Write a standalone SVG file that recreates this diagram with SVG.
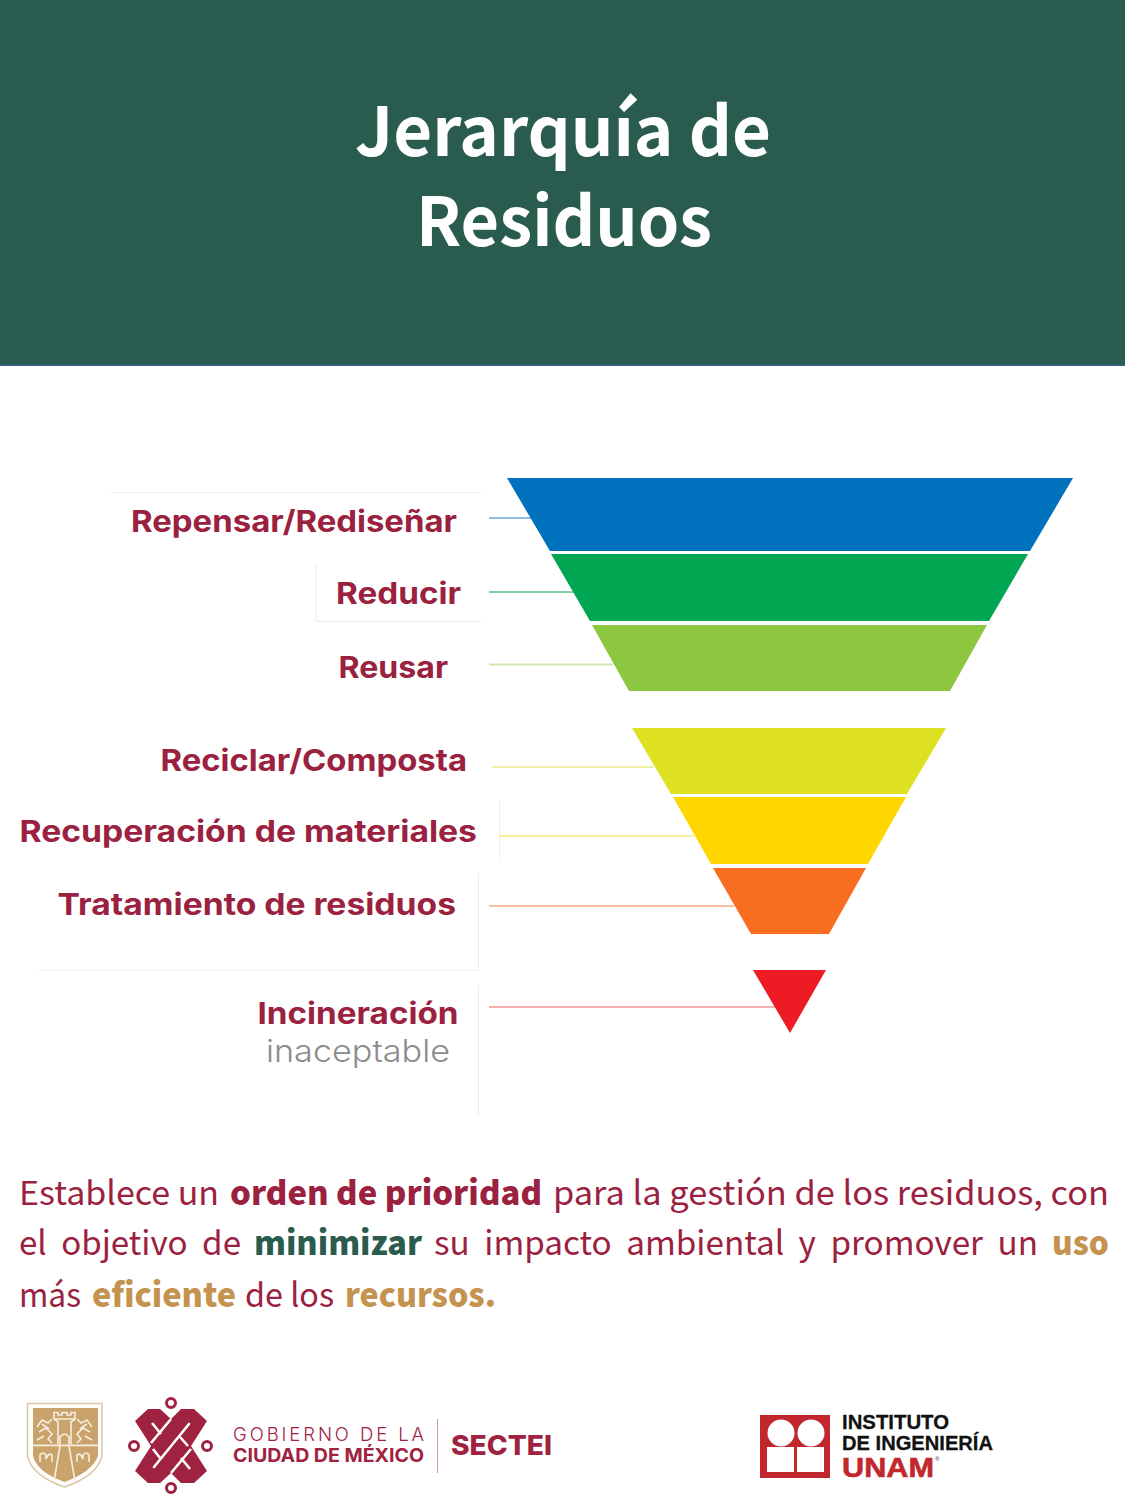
<svg xmlns="http://www.w3.org/2000/svg" width="1125" height="1500" viewBox="0 0 1125 1500">
<style>
.title{font-family:"Noto Sans CJK SC","Noto Sans",sans-serif;font-weight:700;font-size:68px;fill:#fff}
.lab{font-family:Inter,"Liberation Sans",sans-serif;font-weight:700;font-size:30px;fill:#9b2140}
.sub{font-family:Inter,"Liberation Sans",sans-serif;font-weight:300;font-size:31px;fill:#8c8c8c}
.b{font-family:"Noto Sans CJK SC","Noto Sans",sans-serif;font-size:33px;fill:#9b2140}
.bb{font-family:"Noto Sans CJK SC","Noto Sans",sans-serif;font-size:33px;font-weight:900}
.just{word-spacing:7px}
.wine{fill:#9b2140}.green{fill:#2a5b4f}.gold{fill:#c3934f}
.faint{stroke:#ececec;stroke-width:1;fill:none}
.conn{stroke-width:1.8;fill:none}
.gob{font-family:Inter,"Liberation Sans",sans-serif;fill:#9f2241}
.ii{font-family:"Liberation Sans",sans-serif;font-weight:700;fill:#111}
.sh{fill:none;stroke:#f6eddf;stroke-width:1.6}
</style>
<rect width="1125" height="1500" fill="#fff"/>
<g id="header">
<rect x="0" y="0" width="1125" height="365" fill="#2a5b4f"/>
<rect x="0" y="364.500" width="1125" height="1.500" fill="#34608a"/>
<text class="title" x="355" y="156" textLength="416" lengthAdjust="spacingAndGlyphs">Jerarquía de</text>
<text class="title" x="416" y="246" textLength="296" lengthAdjust="spacingAndGlyphs">Residuos</text>
</g>
<g id="faint-frames">
<path class="faint" d="M111 492.500H481M316 563V621.500H481M499.500 800V858M478.500 873V970H38M478.500 985V1115"/>
</g>
<g id="connectors">
<line class="conn" x1="489" y1="518" x2="532" y2="518" stroke="#8fbce0"/>
<line class="conn" x1="489" y1="592" x2="574" y2="592" stroke="#85cfa6"/>
<line class="conn" x1="489" y1="664.500" x2="613" y2="664.500" stroke="#cfe5ad"/>
<line class="conn" x1="492" y1="767" x2="654" y2="767" stroke="#eef0a8"/>
<line class="conn" x1="499" y1="836" x2="694" y2="836" stroke="#f8ec99"/>
<line class="conn" x1="489" y1="906" x2="734" y2="906" stroke="#fbc0a0"/>
<line class="conn" x1="489" y1="1007" x2="775" y2="1007" stroke="#f6b0b0"/>
</g>
<g id="level-repensar">
<polygon points="507,478 1073,478 1030,551 550,551" fill="#0071bc"/>
<text class="lab" x="131" y="531.500" textLength="326" lengthAdjust="spacingAndGlyphs">Repensar/Rediseñar</text>
</g>
<g id="level-reducir">
<polygon points="551,554 1028,554 989,621 590,621" fill="#00a651"/>
<text class="lab" x="336" y="603.500" textLength="125" lengthAdjust="spacingAndGlyphs">Reducir</text>
</g>
<g id="level-reusar">
<polygon points="592,625 987,625 950,691 629,691" fill="#8dc63f"/>
<text class="lab" x="338.500" y="678" textLength="109.500" lengthAdjust="spacingAndGlyphs">Reusar</text>
</g>
<g id="level-reciclar">
<polygon points="632,728 946,728 907,794 671,794" fill="#dde121"/>
<text class="lab" x="160.500" y="770.500" textLength="306.500" lengthAdjust="spacingAndGlyphs">Reciclar/Composta</text>
</g>
<g id="level-recuperacion">
<polygon points="673,797 906,797 868,864 711,864" fill="#ffd600"/>
<text class="lab" x="19.500" y="841.500" textLength="457.500" lengthAdjust="spacingAndGlyphs">Recuperación de materiales</text>
</g>
<g id="level-tratamiento">
<polygon points="713,868 866,868 829,934 751,934" fill="#f96d20"/>
<text class="lab" x="57.500" y="914.500" textLength="398.500" lengthAdjust="spacingAndGlyphs">Tratamiento de residuos</text>
</g>
<g id="level-incineracion">
<polygon points="753,970 826,970 790,1033" fill="#ed1c24"/>
<text class="lab" x="257.500" y="1023.500" textLength="201" lengthAdjust="spacingAndGlyphs">Incineración</text>
<text class="sub" x="266" y="1061.500" textLength="184" lengthAdjust="spacingAndGlyphs">inaceptable</text>
</g>
<g id="description">
<text class="b" x="19" y="1205" textLength="200" lengthAdjust="spacingAndGlyphs">Establece un</text>
<text class="bb wine" x="230" y="1205" textLength="312" lengthAdjust="spacingAndGlyphs">orden de prioridad</text>
<text class="b" x="553" y="1205" textLength="556" lengthAdjust="spacingAndGlyphs">para la gestión de los residuos, con</text>
<text class="b just" x="19" y="1255" textLength="222" lengthAdjust="spacingAndGlyphs">el objetivo de</text>
<text class="bb green" x="254" y="1255" textLength="168" lengthAdjust="spacingAndGlyphs">minimizar</text>
<text class="b just" x="434" y="1255" textLength="604" lengthAdjust="spacingAndGlyphs">su impacto ambiental y promover un</text>
<text class="bb gold" x="1052" y="1255" textLength="57" lengthAdjust="spacingAndGlyphs">uso</text>
<text class="b" x="19" y="1307" textLength="62" lengthAdjust="spacingAndGlyphs">más</text>
<text class="bb gold" x="92" y="1307" textLength="144" lengthAdjust="spacingAndGlyphs">eficiente</text>
<text class="b" x="245" y="1307" textLength="89" lengthAdjust="spacingAndGlyphs">de los</text>
<text class="bb gold" x="345" y="1307" textLength="151" lengthAdjust="spacingAndGlyphs">recursos.</text>
</g>
<g id="logo-shield">
<path d="M27.500 1403.500H102V1456Q97 1476 64.500 1487Q32 1476 27.500 1456Z" fill="#fff" stroke="#dcc8a6" stroke-width="1.500"/>
<path d="M33 1408H98V1456Q92 1472 64.500 1482Q37 1472 33 1456Z" fill="#c9a36b"/>
<rect x="33" y="1444.500" width="65" height="1.800" fill="#f6eddf"/>
<path class="sh" d="M54 1419V1412.500H58V1415H62V1412.500H67V1415H71V1412.500H75V1419L71 1422V1444.500M54 1419L58 1422V1444.500M54 1419H75"/>
<path class="sh" d="M60 1444.500V1437Q64.500 1431 69 1437V1444.500"/>
<path class="sh" d="M37 1427L42 1420L48 1423L52 1419M39 1432L46 1428L52 1434L48 1439L52 1443M37 1440L44 1436M42 1424L49 1429"/>
<path class="sh" d="M92 1427L87 1420L81 1423L77 1419M90 1432L83 1428L77 1434L81 1439L77 1443M92 1440L85 1436M87 1424L80 1429"/>
<path class="sh" d="M40 1462V1455Q43 1451 46 1455V1459Q49 1452 52 1455V1462M89 1462V1455Q86 1451 83 1455V1459Q80 1452 77 1455V1462"/>
<path class="sh" d="M60 1446L54 1481M69 1446L75 1481"/>
</g>
<g id="logo-cdmx">
<g fill="none" stroke="#9f2241" stroke-width="3">
<circle cx="171" cy="1403" r="4.500"/><circle cx="134" cy="1446" r="4.500"/><circle cx="207" cy="1446" r="4.500"/><circle cx="171" cy="1488" r="4.500"/>
</g>
<polygon points="135,1421 148,1409 160,1409 171,1419 181,1409 194,1409 207,1421 191,1446 207,1471 194,1483 181,1483 171,1473 160,1483 148,1483 135,1471 151,1446" fill="#9f2241"/>
<g fill="none" stroke="#fff" stroke-width="2.600">
<path d="M171 1419L151 1443M191 1449L171 1473"/>
<path d="M189 1424L154 1467" stroke-linecap="round"/>
<path d="M152 1423L161 1434M181 1458L190 1469"/>
<path d="M153 1449L160 1458M180 1437L188 1446"/>
</g>
</g>
<g id="logo-gobierno">
<text class="gob" x="233" y="1441" font-size="18.500" font-weight="300" textLength="191" lengthAdjust="spacing">GOBIERNO DE LA</text>
<text class="gob" x="233" y="1462" font-size="19" font-weight="700" textLength="191" lengthAdjust="spacingAndGlyphs">CIUDAD DE MÉXICO</text>
<rect x="437" y="1419" width="1" height="54" fill="#c99aa6"/>
<text class="gob" x="451" y="1455" font-size="27" font-weight="800" textLength="101" lengthAdjust="spacingAndGlyphs">SECTEI</text>
</g>
<g id="logo-unam">
<rect x="760" y="1415" width="70" height="63" fill="#c1272d"/>
<circle cx="781" cy="1433" r="13.500" fill="#fff"/><circle cx="811" cy="1433" r="13.500" fill="#fff"/>
<rect x="767" y="1447" width="27" height="25" fill="#fff"/><rect x="797" y="1447" width="27" height="25" fill="#fff"/>
<text class="ii" x="842" y="1429" font-size="21" textLength="107" lengthAdjust="spacingAndGlyphs" stroke="#111" stroke-width="0.300">INSTITUTO</text>
<text class="ii" x="842" y="1450" font-size="21" textLength="151" lengthAdjust="spacingAndGlyphs" stroke="#111" stroke-width="0.300">DE INGENIERÍA</text>
<text class="ii" x="842" y="1477" font-size="28" style="fill:#c1272d" stroke="#c1272d" stroke-width="0.600" textLength="92" lengthAdjust="spacingAndGlyphs">UNAM</text>
<text class="ii" x="935" y="1461" font-size="6" style="fill:#777">®</text>
</g>
</svg>
